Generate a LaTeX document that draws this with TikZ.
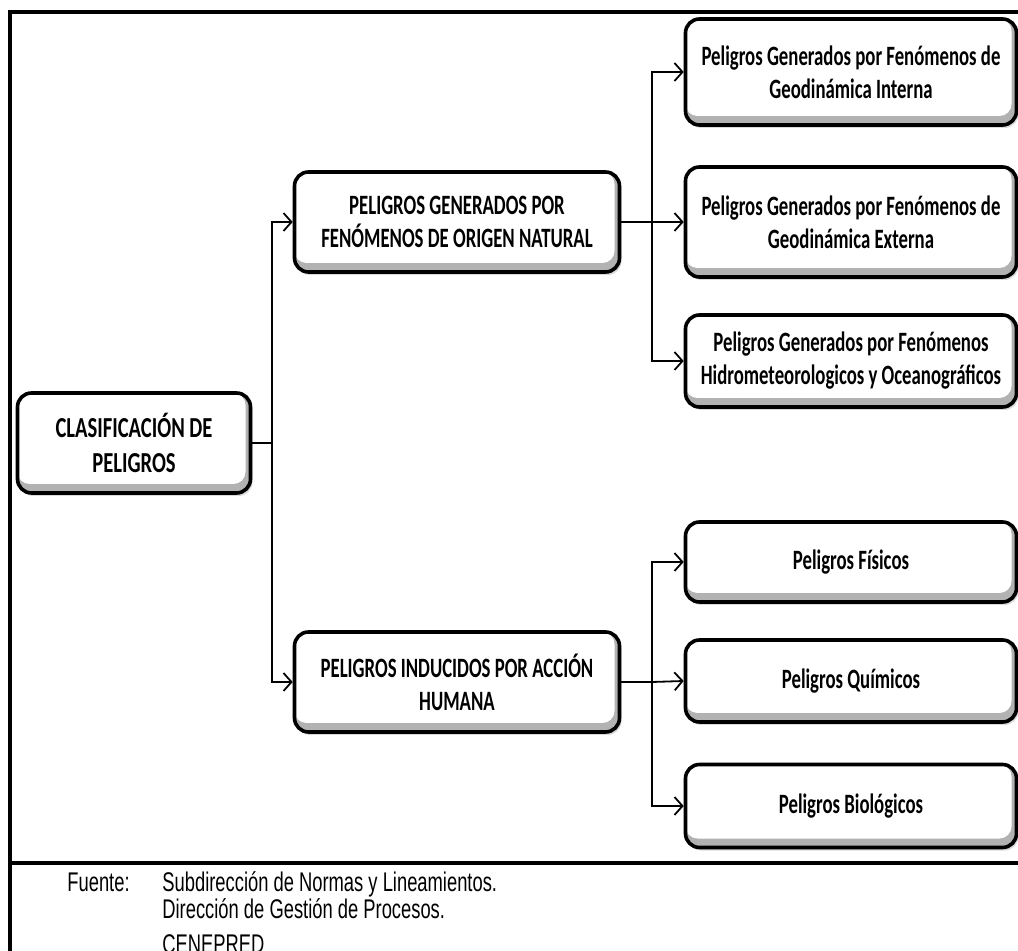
\documentclass[tikz,border=0pt]{standalone}
\usepackage{fontspec}
\setmainfont{Carlito}
\newfontfamily\cajafont[FakeStretch=0.67]{Carlito}
\newfontfamily\raizfont[FakeStretch=0.71]{Carlito}
\newfontfamily\piefont[FakeStretch=0.68]{Liberation Sans}
\usetikzlibrary{arrows.meta,shadows}

\begin{document}
\begin{tikzpicture}[x=0.5pt,y=-0.5pt,
	caja/.style={draw, line width=1.8pt, rounded corners=7pt, fill=gray!60, align=center, inner sep=2pt,
		font=\cajafont\bfseries\fontsize{14}{16.5}\selectfont,
		path picture={\fill[white, rounded corners=6pt] (path picture bounding box.north west) rectangle ([shift={(-2.5pt,4.5pt)}]path picture bounding box.south east);},
		drop shadow={shadow xshift=1pt, shadow yshift=-1.5pt, opacity=.3}},
	caja1/.style={caja, minimum width=116.5pt, minimum height=50pt, font=\raizfont\bfseries\fontsize{14.5}{17.5}\selectfont},
	caja2/.style={caja, minimum width=162.5pt, minimum height=50pt},
	caja3/.style={caja, minimum width=165.5pt},
	flecha/.style={line width=0.9pt, -{Straight Barb[length=4pt,width=9pt]}},
	linea/.style={line width=0.9pt},
	marco/.style={line width=1.6pt},
	pie/.style={font=\piefont\fontsize{13.5}{15}\selectfont, inner sep=0pt, anchor=base west}]
	\clip (0,0) rectangle (1018,951);
	\useasboundingbox (0,0) rectangle (1018,951);
	\draw[marco] (1018,12) -- (10,12) -- (10,951);
	\draw[marco] (10,863) -- (1018,863);

	\node[caja1] (raiz) at (134,443) {CLASIFICACIÓN DE\\PELIGROS};
	\node[caja2] (natural) at (457,222) {PELIGROS GENERADOS POR\\FENÓMENOS DE ORIGEN NATURAL};
	\node[caja2] (humano) at (457,682) {PELIGROS INDUCIDOS POR ACCIÓN\\HUMANA};
	\node[caja3, minimum height=53pt] (geoInt) at (851,72) {Peligros Generados por Fenómenos de\\Geodinámica Interna};
	\node[caja3, minimum height=55pt] (geoExt) at (851,222) {Peligros Generados por Fenómenos de\\Geodinámica Externa};
	\node[caja3, minimum height=46pt] (hidro) at (851,361) {Peligros Generados por Fenómenos\\Hidrometeorologicos y Oceanográficos};
	\node[caja3, minimum height=40pt] (fisicos) at (851,562) {Peligros Físicos};
	\node[caja3, minimum height=41pt] (quimicos) at (851,681) {Peligros Químicos};
	\node[caja3, minimum height=41.5pt] (biologicos) at (851,806) {Peligros Biológicos};

	\coordinate (jA) at (272,443);
	\coordinate (jB) at (652,222);
	\coordinate (jC) at (652,682);
	\draw[linea] (raiz.east) -- (jA);
	\draw[flecha] (jA) |- (natural.west);
	\draw[flecha] (jA) |- (humano.west);
	\draw[linea] (natural.east) -- (jB);
	\draw[flecha] (jB) |- (geoInt.west);
	\draw[flecha] (jB) -- (geoExt.west);
	\draw[flecha] (jB) |- (hidro.west);
	\draw[linea] (humano.east) -- (jC);
	\draw[flecha] (jC) |- (fisicos.west);
	\draw[flecha] (jC) -- (quimicos.west);
	\draw[flecha] (jC) |- (biologicos.west);

	\node[pie] (fuente) at (67,892) {Fuente:};
	\node[pie] (pie1) at (162,892) {Subdirección de Normas y Lineamientos.};
	\node[pie] (pie2) at (162,918) {Dirección de Gestión de Procesos.};
	\node[pie] (pie3) at (162,953) {CENEPRED};
\end{tikzpicture}
\end{document}
